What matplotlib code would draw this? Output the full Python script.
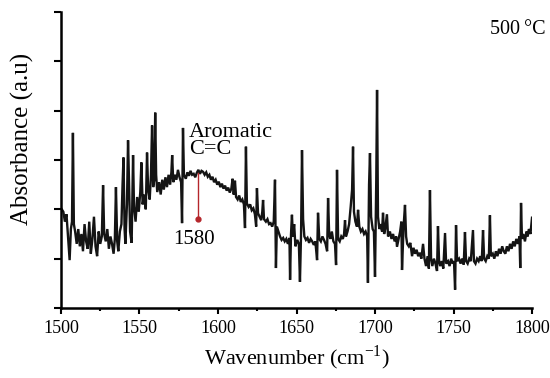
import numpy as np
import matplotlib
matplotlib.use("Agg")
import matplotlib.pyplot as plt

# FTIR spectrum, 500 C sample
wn = [1500.5, 1501.5, 1502.5, 1503.5, 1504.5, 1505.5, 1506.3, 1507.0, 1507.6, 1508.2,
      1509, 1510, 1511, 1512, 1513, 1514, 1515, 1516, 1517, 1518,
      1519, 1520, 1521, 1522, 1523, 1524, 1525, 1526, 1526.8, 1527.5,
      1528.5, 1529.5, 1530.5, 1531.5, 1532.5, 1533.5, 1534.3, 1535, 1535.8, 1536.5,
      1537.5, 1538.5, 1539.2, 1539.8, 1540.5, 1541, 1542, 1542.7, 1543.3, 1544,
      1545, 1545.9, 1546.5, 1547.5, 1548.5, 1549.5, 1550.5, 1551.2, 1552, 1553,
      1554, 1554.8, 1555.5, 1556.5, 1557.3, 1558.0, 1558.7, 1559.4, 1560.0, 1560.6,
      1561.3, 1562.5, 1563.5, 1564.5, 1565.5, 1566.5, 1567.5, 1568.5, 1569.5, 1570.3,
      1570.8, 1571.5, 1572.5, 1573.5, 1574.5, 1575.5, 1576.5, 1577.1, 1577.7, 1578.3,
      1579.5, 1580.5, 1581.5, 1582.5, 1583.5, 1584.5, 1585.5, 1586.5, 1587.5, 1588.5,
      1589.5, 1590.5, 1591.5, 1592.5, 1593.5, 1594.5, 1595.5, 1596.5, 1597.5, 1598.5,
      1599.5, 1600.5, 1601.5, 1602.5, 1603.5, 1604.5, 1605.5, 1606.5, 1607.5, 1608.5,
      1609.3, 1610, 1610.8, 1611.5, 1612.5, 1613.5, 1614.5, 1615.5, 1616.5, 1617.2,
      1617.8, 1618.4, 1619.5, 1620.5, 1621.5, 1622.5, 1623.5, 1624.3, 1624.8, 1625.5,
      1626.5, 1627.5, 1628.2, 1628.7, 1629.3, 1630.5, 1631.5, 1632.5, 1633.5, 1634.5,
      1635.5, 1636.3, 1636.9, 1637.5, 1638.5, 1639.5, 1640.5, 1641.5, 1642.5, 1643.5,
      1644.5, 1645.5, 1645.9, 1646.5, 1647.1, 1647.7, 1648.5, 1649.3, 1650.5, 1651.5,
      1652.2, 1652.9, 1653.5, 1654.2, 1655, 1656, 1657, 1658, 1659, 1660,
      1661, 1662, 1663.1, 1663.7, 1664.5, 1665.5, 1666.5, 1667.5, 1668.5, 1669.5,
      1670.1, 1670.8, 1671.5, 1672.5, 1673.5, 1674.5, 1675.2, 1675.8, 1676.5, 1677.5,
      1678.5, 1679.5, 1680.3, 1680.9, 1681.5, 1682.5, 1683.5, 1684.5, 1685.4, 1686.0,
      1686.6, 1687.5, 1688.5, 1689.2, 1690, 1691, 1692, 1693, 1694, 1695,
      1695.5, 1696.2, 1696.8, 1697.5, 1698.5, 1699.3, 1700, 1700.8, 1701.3, 1701.9,
      1702.8, 1703.5, 1704.5, 1705.1, 1705.8, 1706.5, 1707.6, 1708.3, 1709.5, 1710.5,
      1711.5, 1712.5, 1713.5, 1714, 1715, 1716, 1716.8, 1717.2, 1718.2, 1719.1,
      1719.8, 1720.5, 1721.5, 1722.5, 1723.6, 1724.5, 1725.5, 1726.5, 1727.5, 1728.5,
      1729.5, 1730.6, 1731.5, 1732.5, 1733.5, 1734.3, 1735.0, 1735.7, 1736.5, 1737.5,
      1738.5, 1739.5, 1740.1, 1740.8, 1741.5, 1742.5, 1743.5, 1744.6, 1745.3, 1746.5,
      1747.5, 1748.5, 1749.5, 1750.3, 1751.0, 1751.6, 1752.3, 1753.5, 1754.5, 1755.5,
      1756.5, 1757.3, 1758, 1759, 1760, 1761, 1762.4, 1763, 1764, 1765,
      1766, 1767, 1768, 1768.8, 1769.5, 1770.5, 1771.5, 1772.5, 1773.2, 1773.8,
      1775, 1776, 1777, 1778, 1779, 1780, 1781, 1782, 1783, 1784,
      1785, 1786, 1787, 1788, 1789, 1790, 1791, 1792, 1792.5, 1793,
      1793.6, 1794.5, 1795.5, 1796.5, 1797.2, 1798, 1799, 1800]

absorb = [2.00, 1.95, 1.75, 1.90, 1.45, 0.97, 1.60, 1.75, 3.55, 1.70,
          1.55, 1.30, 1.60, 1.25, 1.50, 1.15, 1.70, 1.35, 1.20, 1.75,
          1.10, 1.40, 1.85, 1.25, 1.05, 1.55, 1.30, 1.45, 2.49, 1.50,
          1.35, 1.60, 1.20, 1.45, 1.30, 1.10, 1.40, 2.45, 1.35, 1.15,
          1.55, 1.70, 2.50, 3.05, 1.60, 1.30, 2.10, 3.40, 2.60, 1.55,
          1.32, 3.10, 2.05, 1.75, 2.25, 1.95, 2.35, 2.95, 2.10, 2.30,
          2.00, 3.15, 2.40, 2.20, 2.70, 3.70, 2.45, 2.60, 3.96, 2.70,
          2.35, 2.55, 2.30, 2.60, 2.40, 2.65, 2.45, 2.70, 2.50, 2.75,
          3.10, 2.55, 2.70, 2.60, 2.80, 2.65, 2.55, 1.72, 3.65, 2.70,
          2.62, 2.75, 2.68, 2.78, 2.70, 2.72, 2.65, 2.74, 2.80, 2.72,
          2.78, 2.76, 2.70, 2.75, 2.66, 2.70, 2.60, 2.66, 2.55, 2.60,
          2.50, 2.56, 2.45, 2.52, 2.42, 2.48, 2.38, 2.44, 2.34, 2.42,
          2.62, 2.30, 2.58, 2.25, 2.20, 2.28, 2.15, 2.20, 2.10, 1.62,
          3.27, 2.12, 2.05, 2.10, 1.98, 2.02, 1.90, 1.65, 2.43, 1.92,
          1.85, 1.78, 1.95, 2.19, 1.80, 1.75, 1.80, 1.70, 1.72, 1.65,
          1.75, 2.60, 0.81, 1.65, 1.55, 1.45, 1.38, 1.42, 1.35, 1.40,
          1.30, 1.42, 0.57, 1.50, 1.89, 1.45, 1.70, 1.25, 1.38, 1.30,
          0.53, 1.50, 3.20, 1.80, 1.45, 1.38, 1.42, 1.32, 1.40, 1.35,
          1.28, 1.35, 0.97, 1.93, 1.40, 1.35, 1.45, 1.38, 1.30, 1.15,
          2.23, 1.50, 1.40, 1.55, 1.35, 1.30, 0.87, 2.80, 1.40, 1.35,
          1.45, 1.40, 1.50, 1.78, 1.45, 1.55, 1.70, 2.05, 2.40, 3.27,
          1.95, 1.75, 1.65, 1.99, 1.65, 1.55, 1.60, 1.50, 1.55, 1.45,
          0.51, 2.50, 3.14, 1.85, 1.60, 1.55, 0.63, 2.60, 4.42, 1.85,
          1.60, 1.70, 1.55, 1.93, 1.50, 1.60, 1.90, 1.45, 1.55, 1.40,
          1.50, 1.35, 1.45, 1.24, 1.40, 1.55, 1.75, 0.77, 1.65, 2.09,
          1.45, 1.30, 1.25, 1.32, 1.05, 1.22, 1.10, 1.18, 1.05, 1.12,
          1.00, 1.30, 1.00, 0.85, 1.05, 0.80, 2.39, 1.00, 0.85, 1.00,
          0.90, 0.75, 1.66, 0.95, 0.85, 0.95, 0.80, 1.52, 0.90, 0.95,
          0.85, 1.00, 0.90, 0.95, 0.37, 1.68, 0.95, 1.00, 0.90, 1.00,
          0.88, 1.54, 0.95, 0.90, 1.00, 0.95, 1.58, 0.95, 0.90, 1.00,
          0.95, 1.05, 0.95, 1.58, 1.00, 0.95, 1.05, 1.00, 1.88, 1.05,
          1.10, 1.00, 1.15, 1.05, 1.20, 1.10, 1.25, 1.15, 1.10, 1.25,
          1.15, 1.30, 1.20, 1.35, 1.25, 1.40, 1.30, 1.45, 0.81, 2.13,
          1.40, 1.50, 1.35, 1.55, 1.45, 1.60, 1.50, 1.83]

peak_wn = 1587
peak_top = 2.74
peak_bottom = 1.80

serif = ["Liberation Serif", "DejaVu Serif"]

fig = plt.figure(figsize=(5.5, 3.78), dpi=100)
ax = fig.add_axes([0.1109, 0.1852, 0.8564, 0.7831])

ax.plot(wn, absorb, color="#141414", lw=1.7, solid_joinstyle="miter")

# red marker for the 1580 band
ax.plot([peak_wn, peak_wn], [peak_top, peak_bottom], color="#b5262b", lw=1.0)
ax.plot([peak_wn], [peak_bottom], marker="o", ms=3.5, color="#b5262b")
ax.text(1584.5, peak_bottom - 0.22, "1580", ha="center", va="top",
        fontsize=15, family=serif)
ax.text(1581.5, 3.03, "Aromatic\nC=C", ha="left", va="bottom",
        fontsize=16, family=serif, linespacing=0.8)
fig.text(546 / 550, 1 - 30 / 378, "500\u2009\u00b0C", ha="right", va="center",
         fontsize=14.5, family=serif)

ax.set_xlim(1500, 1800)
ax.set_ylim(0, 6)
ax.set_xticks(np.arange(1500, 1801, 50))
ax.set_xticks(np.arange(1525, 1800, 50), minor=True)
ax.set_yticks(np.arange(0, 7, 1))
ax.set_yticklabels([])

for lab in ax.get_xticklabels():
    lab.set_family(serif)
    lab.set_fontsize(13)

ax.tick_params(axis="x", which="major", direction="out", length=4, width=1.5, pad=5)
ax.tick_params(axis="x", which="minor", direction="out", length=2.5, width=1.5)
ax.tick_params(axis="y", direction="out", length=5, width=1.5)

ax.spines["top"].set_visible(False)
ax.spines["right"].set_visible(False)
ax.spines["left"].set_linewidth(1.8)
ax.spines["bottom"].set_linewidth(1.8)

ax.set_xlabel("Wavenumber (cm$^{\\mathregular{-1}}$)", fontsize=16, family=serif, labelpad=4)
ax.set_ylabel("Absorbance (a.u)", fontsize=18, family=serif, labelpad=8)
ax.yaxis.set_label_coords(-0.058, 0.57)

fig.savefig("out.png", dpi=100)
